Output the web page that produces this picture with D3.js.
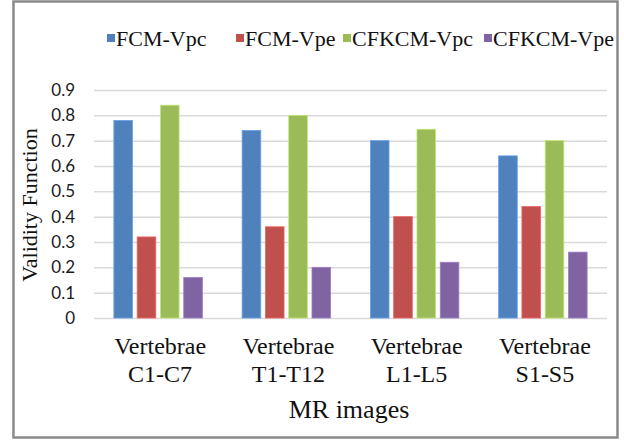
<!DOCTYPE html>
<html>
<head>
<meta charset="utf-8">
<script src="https://cdn.jsdelivr.net/npm/d3@7"></script>
</head>
<body style="margin:0">
<svg class="chart" width="624" height="443" font-family="Liberation Serif, Times New Roman, serif"></svg>
<script>
var categories = [["Vertebrae", "C1-C7"], ["Vertebrae", "T1-T12"], ["Vertebrae", "L1-L5"], ["Vertebrae", "S1-S5"]];
var seriesNames = ["FCM-Vpc", "FCM-Vpe", "CFKCM-Vpc", "CFKCM-Vpe"];
var fcmVpc = [0.78, 0.74, 0.70, 0.64];
var fcmVpe = [0.32, 0.36, 0.40, 0.44];
var cfkcmVpc = [0.84, 0.80, 0.745, 0.70];
var cfkcmVpe = [0.16, 0.20, 0.22, 0.26];
var yTicks = [0, 0.1, 0.2, 0.3, 0.4, 0.5, 0.6, 0.7, 0.8, 0.9];
var colors = ["#4F81BD", "#C0504D", "#9BBB59", "#8064A2"];

var values = [fcmVpc, fcmVpe, cfkcmVpc, cfkcmVpe];

var svg = d3.select("svg.chart");
var plotLeft = 94, plotRight = 607, plotTop = 90, plotBottom = 318;

// outer frame
svg.append("rect")
    .attr("x", 13.5).attr("y", 1.5)
    .attr("width", 604).attr("height", 436)
    .attr("fill", "none")
    .attr("stroke", "#8a8a8a")
    .attr("stroke-width", 2.5);

var x0 = d3.scaleBand()
    .domain(d3.range(categories.length))
    .range([plotLeft, plotRight])
    .paddingInner(0.31)
    .paddingOuter(0.155);
var x1 = d3.scaleBand()
    .domain(d3.range(seriesNames.length))
    .range([0, x0.bandwidth()])
    .paddingInner(0.2);
var y = d3.scaleLinear().domain([0, 0.9]).range([plotBottom, plotTop]);

// gridlines + tick labels (sans, like the original)
var yAxis = d3.axisLeft(y).tickValues(yTicks).tickSize(-(plotRight - plotLeft))
    .tickFormat(function (d) { return d === 0 ? "0" : d3.format(".1f")(d); });
var gy = svg.append("g").attr("transform", "translate(" + plotLeft + ",0)").call(yAxis)
    .attr("font-family", "Lato")
    .attr("font-size", 17);
gy.select(".domain").remove();
gy.selectAll(".tick line").attr("stroke", "#d9d9d9").attr("stroke-width", 1.5);
gy.selectAll(".tick text")
    .attr("x", -19)
    .attr("fill", "#1a1a1a");

// bars
var groups = svg.append("g").selectAll("g")
    .data(categories)
  .enter().append("g")
    .attr("transform", function (d, i) { return "translate(" + x0(i) + ",0)"; });
groups.selectAll("rect")
    .data(function (d, i) { return values.map(function (s, k) { return { k: k, v: s[i] }; }); })
  .enter().append("rect")
    .attr("x", function (d) { return x1(d.k); })
    .attr("y", function (d) { return y(d.v); })
    .attr("width", x1.bandwidth())
    .attr("height", function (d) { return y(0) - y(d.v); })
    .attr("fill", function (d) { return colors[d.k]; })
    .attr("stroke", function (d) { return d3.color(colors[d.k]).brighter(0.6); })
    .attr("stroke-width", 0.8);

// category labels
var cx = function (d, i) { return x0(i) + x0.bandwidth() / 2 + 2; };
var xl = svg.append("g").selectAll("text")
    .data(categories)
  .enter().append("text")
    .attr("text-anchor", "middle")
    .attr("fill", "#111")
    .attr("font-size", 24);
xl.append("tspan").attr("x", cx).attr("y", 354).text(function (d) { return d[0]; });
xl.append("tspan").attr("x", cx).attr("y", 382).text(function (d) { return d[1]; });

// axis titles
svg.append("text")
    .attr("x", 349).attr("y", 418)
    .attr("text-anchor", "middle")
    .attr("fill", "#111")
    .attr("font-size", 26)
    .text("MR images");
svg.append("text")
    .attr("transform", "translate(37,205) rotate(-90)")
    .attr("text-anchor", "middle")
    .attr("fill", "#111")
    .attr("font-size", 22)
    .text("Validity Function");

// legend
var legendX = [107, 236, 343, 484];
var lg = svg.append("g").selectAll("g")
    .data(seriesNames)
  .enter().append("g")
    .attr("transform", function (d, i) { return "translate(" + legendX[i] + ",0)"; });
lg.append("rect")
    .attr("x", 0).attr("y", 34)
    .attr("width", 8).attr("height", 8)
    .attr("fill", function (d, i) { return colors[i]; });
lg.append("text")
    .attr("x", 9).attr("y", 46)
    .attr("fill", "#111")
    .attr("font-size", 22)
    .text(function (d) { return d; });
</script>
</body>
</html>
